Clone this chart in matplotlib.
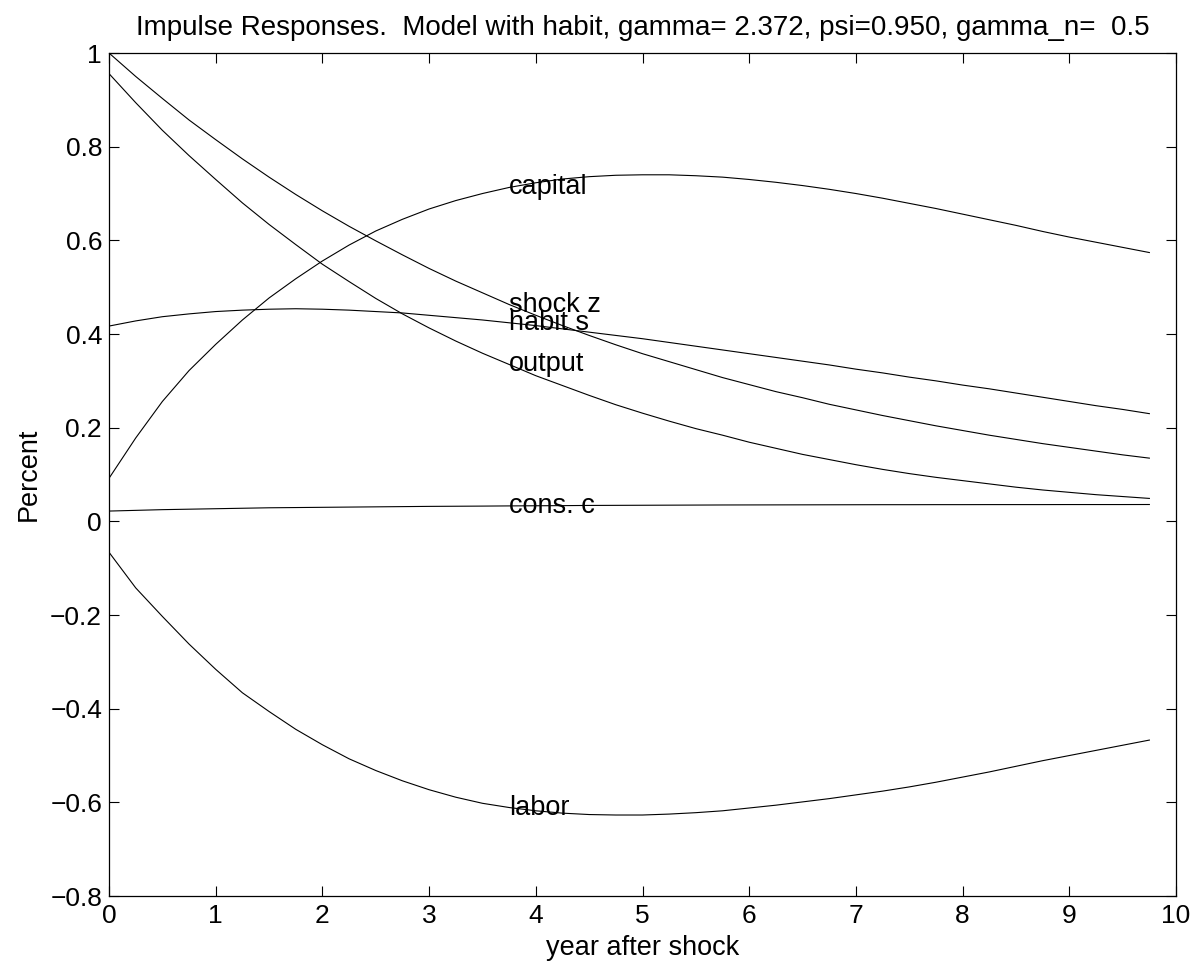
import numpy as np
import matplotlib
matplotlib.use("Agg")
import matplotlib.pyplot as plt

plt.rcParams['font.family'] = ['Liberation Sans', 'DejaVu Sans']

# quarterly horizon, in years
years = np.arange(40) * 0.25

shock_z = [1.000, 0.950, 0.903, 0.857, 0.815, 0.774, 0.735, 0.698, 0.663, 0.630,
           0.599, 0.569, 0.540, 0.513, 0.488, 0.463, 0.440, 0.418, 0.397, 0.377,
           0.358, 0.341, 0.324, 0.307, 0.292, 0.277, 0.264, 0.250, 0.238, 0.226,
           0.215, 0.204, 0.194, 0.184, 0.175, 0.166, 0.158, 0.150, 0.142, 0.135]

output = [0.956, 0.894, 0.835, 0.781, 0.730, 0.680, 0.634, 0.591, 0.549, 0.512,
          0.476, 0.443, 0.413, 0.385, 0.359, 0.335, 0.311, 0.290, 0.269, 0.249,
          0.231, 0.214, 0.198, 0.184, 0.169, 0.156, 0.143, 0.132, 0.121, 0.111,
          0.102, 0.094, 0.087, 0.080, 0.073, 0.067, 0.062, 0.057, 0.053, 0.049]

capital = [0.092, 0.178, 0.256, 0.322, 0.378, 0.430, 0.477, 0.518, 0.556, 0.590,
           0.620, 0.645, 0.667, 0.685, 0.700, 0.713, 0.723, 0.731, 0.736, 0.739,
           0.740, 0.740, 0.738, 0.735, 0.730, 0.724, 0.717, 0.709, 0.700, 0.690,
           0.679, 0.668, 0.656, 0.644, 0.632, 0.619, 0.607, 0.596, 0.585, 0.574]

habit_s = [0.417, 0.428, 0.437, 0.443, 0.448, 0.451, 0.453, 0.454, 0.453, 0.451,
           0.448, 0.445, 0.440, 0.435, 0.430, 0.424, 0.418, 0.411, 0.404, 0.397,
           0.390, 0.382, 0.374, 0.366, 0.358, 0.350, 0.342, 0.334, 0.325, 0.317,
           0.308, 0.300, 0.291, 0.283, 0.274, 0.265, 0.256, 0.247, 0.239, 0.230]

cons_c = [0.022, 0.0235, 0.025, 0.026, 0.027, 0.028, 0.029, 0.0295, 0.030, 0.0305,
          0.031, 0.0315, 0.032, 0.0323, 0.0326, 0.033, 0.0333, 0.0336, 0.034, 0.0342,
          0.0344, 0.0346, 0.0348, 0.035, 0.0351, 0.0352, 0.0353, 0.0354, 0.0355, 0.0356,
          0.0356, 0.0357, 0.0357, 0.0358, 0.0358, 0.0358, 0.0359, 0.0359, 0.0359, 0.036]

labor = [-0.066, -0.142, -0.203, -0.262, -0.316, -0.366, -0.406, -0.444, -0.477, -0.507,
         -0.532, -0.554, -0.573, -0.589, -0.602, -0.611, -0.618, -0.623, -0.626, -0.627,
         -0.627, -0.625, -0.622, -0.618, -0.612, -0.606, -0.599, -0.592, -0.584, -0.576,
         -0.567, -0.557, -0.546, -0.535, -0.523, -0.511, -0.500, -0.489, -0.478, -0.467]

series = [(shock_z, 'shock z'), (output, 'output'), (capital, 'capital'),
          (habit_s, 'habit s'), (cons_c, 'cons. c'), (labor, 'labor')]

fig = plt.figure(figsize=(12.02, 9.73), dpi=100)
ax = fig.add_axes([0.0907, 0.0791, 0.8877, 0.8664])

label_idx = 15  # put each name at t = 3.75 years
for values, name in series:
    ax.plot(years, values, color='black', linewidth=0.8)
    ax.text(years[label_idx], values[label_idx], name, fontsize=19.5,
            ha='left', va='center')

ax.set_xlim(0, 10)
ax.set_ylim(-0.8, 1.0)
ax.set_xticks(np.arange(0, 11, 1))
ax.set_yticks(np.arange(-0.8, 1.01, 0.2))
ax.set_yticklabels(['−0.8', '−0.6', '−0.4', '−0.2', '0', '0.2', '0.4', '0.6', '0.8', '1'])
ax.tick_params(direction='in', length=7, width=0.8, labelsize=19,
               top=True, right=True)
ax.tick_params(axis='x', pad=6)
ax.tick_params(axis='y', pad=5)
for sp in ax.spines.values():
    sp.set_linewidth(0.9)

ax.set_title("Impulse Responses.  Model with habit, gamma= 2.372, psi=0.950, gamma_n=  0.5",
             fontsize=20, pad=13)
ax.set_xlabel("year after shock", fontsize=19.5, labelpad=5)
ax.set_ylabel("Percent", fontsize=19.5, labelpad=6)

fig.savefig("out.png", dpi=100)
